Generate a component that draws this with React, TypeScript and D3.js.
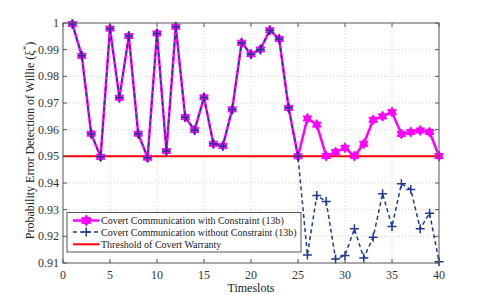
import React, { useEffect, useRef } from "react";
import * as d3 from "d3";

// timeslots 1..40
const timeslots = d3.range(1, 41);

// with constraint (13b)
const withConstraint = [
  0.9996, 0.9877, 0.9585, 0.9498, 0.9979, 0.972, 0.9951, 0.9585, 0.9495, 0.9961,
  0.952, 0.9986, 0.9647, 0.9598, 0.9721, 0.9547, 0.9539, 0.9676, 0.9926, 0.9883,
  0.9901, 0.9973, 0.994, 0.9682, 0.95, 0.9642, 0.9619, 0.9501, 0.9516, 0.9532,
  0.9501, 0.9547, 0.9637, 0.965, 0.9666, 0.9584, 0.9591, 0.9597, 0.9591, 0.9501,
];

// without constraint (13b)
const withoutConstraint = [
  0.9996, 0.9877, 0.9585, 0.9498, 0.9979, 0.972, 0.9951, 0.9585, 0.9495, 0.9961,
  0.952, 0.9986, 0.9647, 0.9598, 0.9721, 0.9547, 0.9539, 0.9676, 0.9926, 0.9883,
  0.9901, 0.9973, 0.994, 0.9682, 0.95, 0.913, 0.9353, 0.9331, 0.9115, 0.9128,
  0.9228, 0.9119, 0.9197, 0.936, 0.9237, 0.9397, 0.9376, 0.9228, 0.9287, 0.9105,
];

const threshold = 0.95;

const xTicks = [0, 5, 10, 15, 20, 25, 30, 35, 40];
const yTicks = [0.91, 0.92, 0.93, 0.94, 0.95, 0.96, 0.97, 0.98, 0.99, 1];

const legendLabels = [
  "Covert Communication with Constraint (13b)",
  "Covert Communication without Constraint (13b)",
  "Threshold of Covert Warranty",
];

const MAGENTA = "#ff00ff";
const NAVY = "#1f3a8f";
const RED = "#ff0000";
const FONT = "Liberation Serif, DejaVu Serif, Times New Roman, serif";

// six-point star (two triangles)
const hexagram = (r: number) => {
  const tri = (off: number) =>
    d3
      .range(3)
      .map((k) => {
        const a = off + (k * 2 * Math.PI) / 3;
        return `${k === 0 ? "M" : "L"}${r * Math.sin(a)},${-r * Math.cos(a)}`;
      })
      .join("") + "Z";
  return tri(0) + tri(Math.PI);
};

const plus = (r: number) => `M${-r},0L${r},0M0,${-r}L0,${r}`;

const App = () => {
  const ref = useRef<SVGSVGElement>(null);

  useEffect(() => {
    const width = 485;
    const height = 295;
    const margin = { left: 63, right: 46, top: 23, bottom: 32 };

    const svg = d3.select(ref.current);
    svg.selectAll("*").remove();

    const x = d3
      .scaleLinear()
      .domain([0, 40])
      .range([margin.left, width - margin.right]);
    const y = d3
      .scaleLinear()
      .domain([0.91, 1])
      .range([height - margin.bottom, margin.top]);

    const [x0, x1] = x.range();
    const [y0, y1] = y.range();

    // grid
    const grid = svg.append("g");
    grid
      .selectAll("line.gx")
      .data(xTicks.slice(1, -1))
      .join("line")
      .attr("x1", (d) => x(d))
      .attr("x2", (d) => x(d))
      .attr("y1", y0)
      .attr("y2", y1)
      .attr("stroke", "#c8c8c8")
      .attr("stroke-width", 0.8)
      .attr("stroke-dasharray", "1,2");
    grid
      .selectAll("line.gy")
      .data(yTicks.slice(1, -1))
      .join("line")
      .attr("x1", x0)
      .attr("x2", x1)
      .attr("y1", (d) => y(d))
      .attr("y2", (d) => y(d))
      .attr("stroke", "#c8c8c8")
      .attr("stroke-width", 0.8)
      .attr("stroke-dasharray", "1,2");

    // threshold
    svg
      .append("line")
      .attr("x1", x0)
      .attr("x2", x1)
      .attr("y1", y(threshold))
      .attr("y2", y(threshold))
      .attr("stroke", RED)
      .attr("stroke-width", 2);

    const line = d3
      .line<number>()
      .x((_, i) => x(timeslots[i]))
      .y((d) => y(d));

    // with constraint
    svg
      .append("path")
      .attr("d", line(withConstraint))
      .attr("fill", "none")
      .attr("stroke", MAGENTA)
      .attr("stroke-width", 2.5);
    svg
      .selectAll("path.star")
      .data(withConstraint)
      .join("path")
      .attr("class", "star")
      .attr("transform", (d, i) => `translate(${x(timeslots[i])},${y(d)})`)
      .attr("d", hexagram(5))
      .attr("fill", MAGENTA)
      .attr("stroke", MAGENTA)
      .attr("stroke-width", 1);

    // without constraint
    svg
      .append("path")
      .attr("d", line(withoutConstraint))
      .attr("fill", "none")
      .attr("stroke", NAVY)
      .attr("stroke-width", 1.5)
      .attr("stroke-dasharray", "4,3");
    svg
      .selectAll("path.plus")
      .data(withoutConstraint)
      .join("path")
      .attr("class", "plus")
      .attr("transform", (d, i) => `translate(${x(timeslots[i])},${y(d)})`)
      .attr("d", plus(4.5))
      .attr("stroke", NAVY)
      .attr("stroke-width", 1.5);

    // box + ticks
    svg
      .append("rect")
      .attr("x", x0)
      .attr("y", y1)
      .attr("width", x1 - x0)
      .attr("height", y0 - y1)
      .attr("fill", "none")
      .attr("stroke", "#555")
      .attr("stroke-width", 1);

    const tl = 4;
    const ticks = svg.append("g").attr("stroke", "#555").attr("stroke-width", 1);
    xTicks.forEach((t) => {
      ticks.append("line").attr("x1", x(t)).attr("x2", x(t)).attr("y1", y0).attr("y2", y0 - tl);
      ticks.append("line").attr("x1", x(t)).attr("x2", x(t)).attr("y1", y1).attr("y2", y1 + tl);
    });
    yTicks.forEach((t) => {
      ticks.append("line").attr("x1", x0).attr("x2", x0 + tl).attr("y1", y(t)).attr("y2", y(t));
      ticks.append("line").attr("x1", x1).attr("x2", x1 - tl).attr("y1", y(t)).attr("y2", y(t));
    });

    // tick labels
    svg
      .selectAll("text.xt")
      .data(xTicks)
      .join("text")
      .attr("x", (d) => x(d))
      .attr("y", y0 + 15.5)
      .attr("text-anchor", "middle")
      .attr("font-family", FONT)
      .attr("font-size", 12)
      .attr("fill", "#333")
      .text((d) => String(d));
    svg
      .selectAll("text.yt")
      .data(yTicks)
      .join("text")
      .attr("x", x0 - 4)
      .attr("y", (d) => y(d) + 4)
      .attr("text-anchor", "end")
      .attr("font-family", FONT)
      .attr("font-size", 12)
      .attr("fill", "#333")
      .text((d) => (d === 1 ? "1" : d.toFixed(2)));

    // axis labels
    svg
      .append("text")
      .attr("x", (x0 + x1) / 2)
      .attr("y", 291.5)
      .attr("text-anchor", "middle")
      .attr("font-family", FONT)
      .attr("font-size", 12)
      .attr("fill", "#222")
      .text("Timeslots");

    const yl = svg
      .append("text")
      .attr("transform", `translate(34,140.5) rotate(-90)`)
      .attr("text-anchor", "middle")
      .attr("font-family", FONT)
      .attr("font-size", 12)
      .attr("fill", "#222");
    yl.append("tspan").text("Probability Error Detection of Willie (ξ");
    yl.append("tspan").attr("dy", -5).attr("font-size", 9).text("*");
    yl.append("tspan").attr("dy", 5).text(")");

    // legend
    const lg = svg.append("g");
    lg.append("rect")
      .attr("x", 67)
      .attr("y", 212.5)
      .attr("width", 234)
      .attr("height", 39.5)
      .attr("fill", "#fff")
      .attr("stroke", "#555")
      .attr("stroke-width", 1);
    const rows = [220.5, 232, 244.3];
    const lx0 = 73;
    const lx1 = 99.5;
    // row 1
    lg.append("line")
      .attr("x1", lx0).attr("x2", lx1).attr("y1", rows[0]).attr("y2", rows[0])
      .attr("stroke", MAGENTA).attr("stroke-width", 2.5);
    lg.append("path")
      .attr("transform", `translate(${(lx0 + lx1) / 2},${rows[0]})`)
      .attr("d", hexagram(5.5))
      .attr("fill", MAGENTA).attr("stroke", MAGENTA);
    // row 2
    lg.append("line")
      .attr("x1", lx0).attr("x2", lx1).attr("y1", rows[1]).attr("y2", rows[1])
      .attr("stroke", NAVY).attr("stroke-width", 1.5).attr("stroke-dasharray", "4,3");
    lg.append("path")
      .attr("transform", `translate(${(lx0 + lx1) / 2},${rows[1]})`)
      .attr("d", plus(4.5))
      .attr("stroke", NAVY).attr("stroke-width", 1.5);
    // row 3
    lg.append("line")
      .attr("x1", lx0).attr("x2", lx1).attr("y1", rows[2]).attr("y2", rows[2])
      .attr("stroke", RED).attr("stroke-width", 2);
    lg.selectAll("text")
      .data(legendLabels)
      .join("text")
      .attr("x", 101)
      .attr("y", (_, i) => rows[i] + 3.5)
      .attr("font-family", FONT)
      .attr("font-size", 10)
      .attr("fill", "#222")
      .text((d) => d);
  }, []);

  return (
    <svg
      ref={ref}
      width={485}
      height={295}
      style={{ position: "absolute", left: 0, top: 0, background: "#fff" }}
    />
  );
};

export default App;
